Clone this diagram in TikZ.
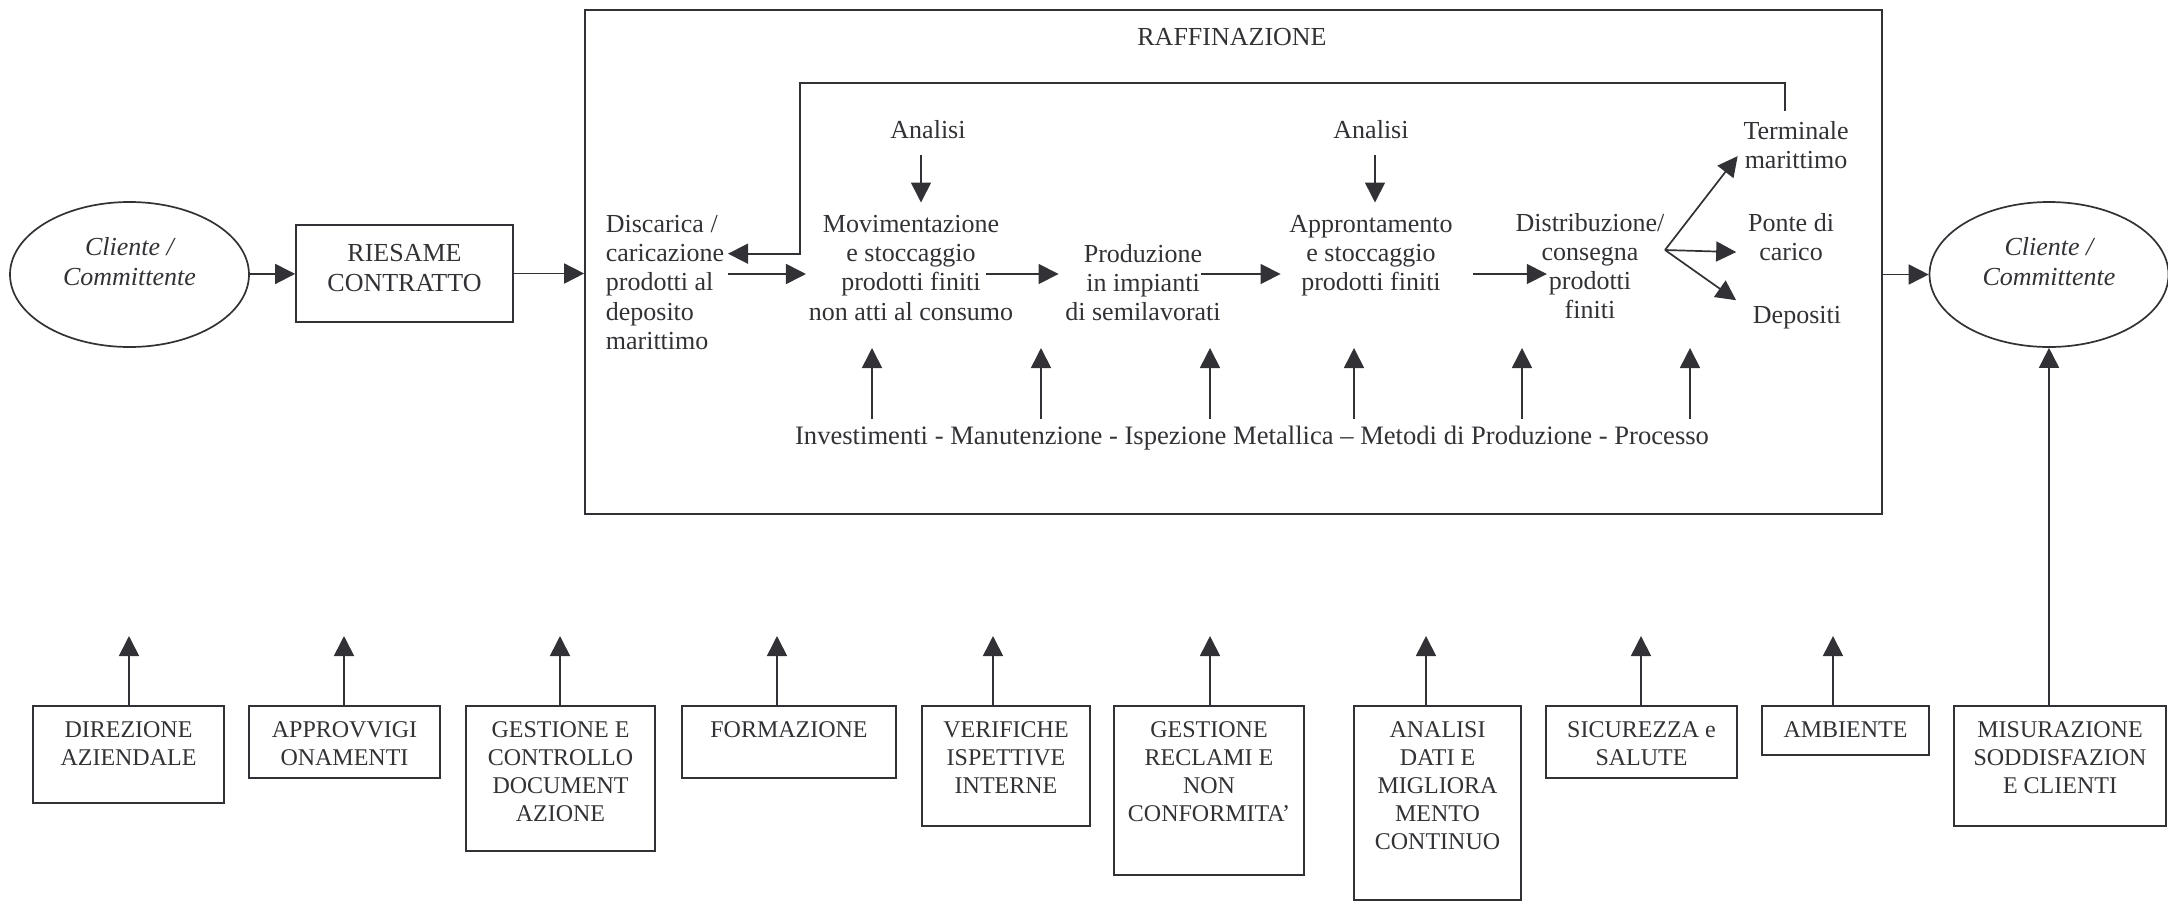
\documentclass[tikz,border=0pt]{standalone}
\usepackage{fontspec}
\setmainfont{Liberation Serif}
\usetikzlibrary{arrows.meta,shapes.geometric}
\definecolor{ink}{RGB}{50,50,54}

\begin{document}
\begin{tikzpicture}[x=.5pt,y=-.5pt,color=ink,line width=.85pt,
    every node/.style={inner sep=0pt},
    arr/.style={-{Triangle[length=10pt,width=10pt]}},
    proc/.style={align=center,anchor=north,font=\fontsize{13}{14.6}\selectfont},
    cust/.style={draw,ellipse,minimum width=119.5pt,minimum height=72.5pt},
    custtext/.style={align=center,font=\fontsize{13}{15}\selectfont\itshape},
    unit/.style={draw,anchor=north},
    unittext/.style={anchor=north,align=center,font=\fontsize{12}{14}\selectfont}]
    		\newcommand{\boxtop}{705}
    		\newcommand{\tipy}{636}
    		\newcommand{\texty}{721}

    		\useasboundingbox (0,0) rectangle (2168,900);

    		% customers and contract review
    		\node[cust] (cli1) at (129.5,274.5) {};
    		\node[custtext] (cli1t) at (129.5,262) {Cliente /\\Committente};
    		\node[draw,minimum width=108.5pt,minimum height=48.5pt] (ries) at (404.5,273.5) {};
    		\node[custtext,font=\fontsize{13}{15}\selectfont] (riest) at (404.5,268.5) {RIESAME\\CONTRATTO};
    		\node[cust] (cli2) at (2049,274.5) {};
    		\node[custtext] (cli2t) at (2049,262) {Cliente /\\Committente};

    		% refinery frame
    		\node[draw,minimum width=648.5pt,minimum height=252pt] (raff) at (1233.5,262) {};
    		\node[proc,anchor=center] (raffl) at (1232,37) {RAFFINAZIONE};

    		% process steps
    		\coordinate (row) at (0,274);
    		\node[proc,align=left,anchor=north west] (disc) at (605,214.5) {Discarica /\\caricazione\\prodotti al\\deposito\\marittimo};
    		\node[proc] (mov) at (911,214.5) {Movimentazione\\e stoccaggio\\prodotti finiti\\non atti al consumo};
    		\node[proc] (prod) at (1143,243.5) {Produzione\\in impianti\\di semilavorati};
    		\node[proc] (appr) at (1371,214.5) {Approntamento\\e stoccaggio\\prodotti finiti};
    		\node[proc] (dist) at (1590,212.5) {Distribuzione/\\consegna\\prodotti\\finiti};
    		\node[proc] (term) at (1796,120.5) {Terminale\\marittimo};
    		\node[proc] (ponte) at (1791,212.5) {Ponte di\\carico};
    		\node[proc] (depo) at (1797,305) {Depositi};
    		\node[proc] (ana1) at (928,119.5) {Analisi};
    		\node[proc] (ana2) at (1371,119.5) {Analisi};
    		\node[proc,font=\fontsize{13.3}{15}\selectfont] (inv) at (1252,425) {Investimenti - Manutenzione - Ispezione Metallica -- Metodi di Produzione - Processo};

    		% main flow
    		\draw[arr] (cli1) -- (ries);
    		\draw[arr] (ries) -- (ries -| raff.west);
    		\draw[arr] ([xshift=1.5pt]disc.east |- row) -- ([xshift=-1pt]mov.west |- row);
    		\draw[arr] ([xshift=-14pt]mov.east |- row) -- ([xshift=-3pt]prod.west |- row);
    		\draw[arr] ([xshift=-10pt]prod.east |- row) -- ([xshift=-4pt]appr.west |- row);
    		\draw[arr] ([xshift=10pt]appr.east |- row) -- ([xshift=16pt]dist.west |- row);
    		\draw[arr] (raff.east |- cli2) -- (cli2);

    		% analyses
    		\draw[arr] ([xshift=-3.5pt,yshift=-8pt]ana1.south) -- ([xshift=-3.5pt,yshift=6pt]ana1.south |- mov.north);
    		\draw[arr] ([xshift=2pt,yshift=-8pt]ana2.south) -- ([xshift=2pt,yshift=6pt]ana2.south |- appr.north);

    		% delivery fan
    		\coordinate (fan) at (1665,250);
    		\draw[arr] (fan) -- ([xshift=-2.5pt,yshift=-5.5pt]term.west);
    		\draw[arr] (fan) -- ([xshift=-5.5pt,yshift=-7.5pt]ponte.west);
    		\draw[arr] (fan) -- ([xshift=-8pt,yshift=8.5pt]depo.west);

    		% return to the sea terminal
    		\coordinate (fb) at (800,83);
    		\draw[arr] ([xshift=-5.5pt,yshift=4.75pt]term.north) |- (fb) |- ([xshift=1.5pt,yshift=14.4pt]disc.east);

    		% support arrows
    		\foreach \x [count=\i] in {872,1041,1210,1354,1522,1690}
    		  {\coordinate (u\i) at (\x,348);
    		   \draw[arr] ([yshift=3pt]inv.north -| u\i) -- (u\i);}

    		% support functions
    		\foreach \nm/\cx/\bw/\bh/\ax/\txt in {
    		    dir/128.5/191/97/129/{DIREZIONE\\AZIENDALE},
    		    app/344.5/191/72/344/{APPROVVIGI\\ONAMENTI},
    		    doc/560.5/189/145/560/{GESTIONE E\\CONTROLLO\\DOCUMENT\\AZIONE},
    		    for/789/214/72/777/{FORMAZIONE},
    		    ver/1006/168/120/993/{VERIFICHE\\ISPETTIVE\\INTERNE},
    		    rec/1209/190/169/1210/{GESTIONE\\RECLAMI E\\NON\\CONFORMITA’},
    		    ana/1437.5/167/194/1426/{ANALISI\\DATI E\\MIGLIORA\\MENTO\\CONTINUO},
    		    sic/1641.5/191/72/1641/{SICUREZZA e\\SALUTE},
    		    amb/1845.5/167/49/1833/{AMBIENTE}}
    		  {\node[unit,minimum width=\bw*.5pt,minimum height=\bh*.5pt] (\nm) at (\cx,\boxtop) {};
    		   \node[unittext] (\nm-t) at (\cx,\texty) {\txt};
    		   \coordinate (\nm-tip) at (\ax,\tipy);
    		   \draw[arr] (\nm-tip |- \nm.north) -- (\nm-tip);}

    		% satisfaction measure
    		\node[unit,minimum width=106pt,minimum height=60pt] (mis) at (2060,\boxtop) {};
    		\node[unittext] (mis-t) at (2060,\texty) {MISURAZIONE\\SODDISFAZION\\E CLIENTI};
    		\draw[arr] (cli2 |- mis.north) -- (cli2);
\end{tikzpicture}
\end{document}
